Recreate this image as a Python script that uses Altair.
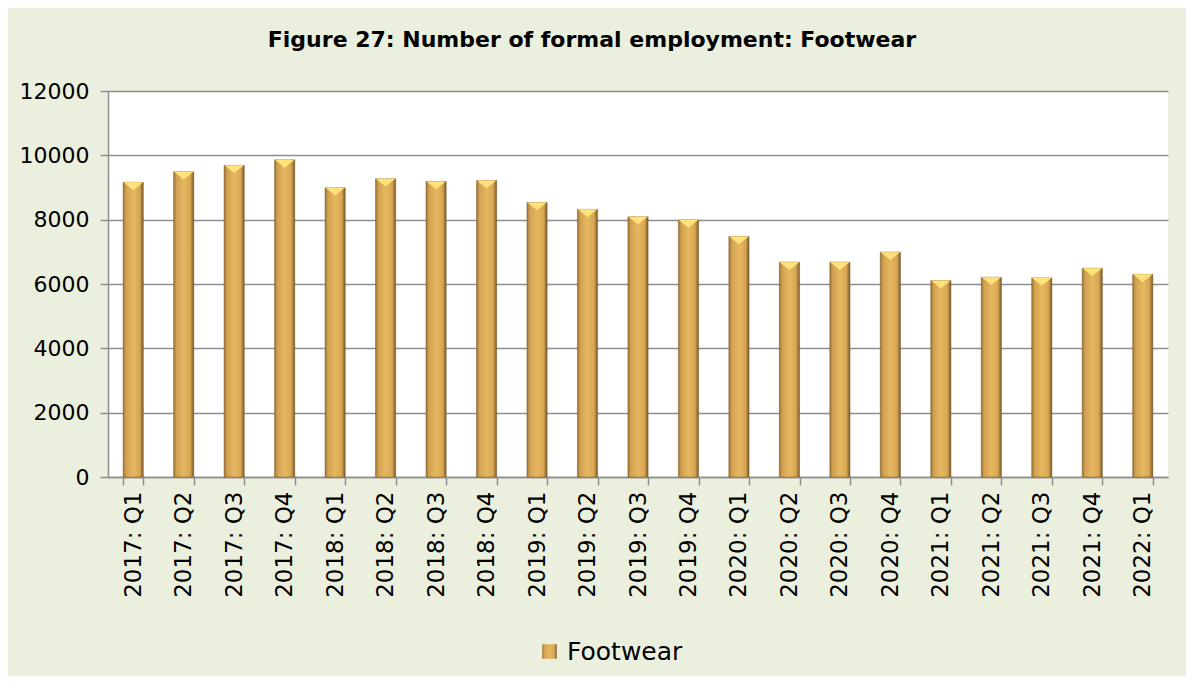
import altair as alt
import pandas as pd

quarters = [
    "2017: Q1", "2017: Q2", "2017: Q3", "2017: Q4",
    "2018: Q1", "2018: Q2", "2018: Q3", "2018: Q4",
    "2019: Q1", "2019: Q2", "2019: Q3", "2019: Q4",
    "2020: Q1", "2020: Q2", "2020: Q3", "2020: Q4",
    "2021: Q1", "2021: Q2", "2021: Q3", "2021: Q4",
    "2022: Q1",
]
footwear = [
    9160, 9490, 9690, 9860,
    8990, 9270, 9190, 9220,
    8535, 8320, 8090, 7990,
    7480, 6680, 6680, 6990,
    6110, 6210, 6190, 6490,
    6300,
]
y_ticks = [0, 2000, 4000, 6000, 8000, 10000, 12000]
series_name = "Footwear"
title_text = "Figure 27: Number of formal employment: Footwear"

df = pd.DataFrame({"quarter": quarters, "value": footwear, "series": series_name})

FONT = "DejaVu Sans"

gold = alt.Gradient(
    gradient="linear",
    x1=0, x2=1, y1=0, y2=0,
    stops=[
        alt.GradientStop(offset=0.0, color="#9A7433"),
        alt.GradientStop(offset=0.15, color="#D3A252"),
        alt.GradientStop(offset=0.5, color="#E6B761"),
        alt.GradientStop(offset=0.82, color="#D9A753"),
        alt.GradientStop(offset=1.0, color="#77592A"),
    ],
)

x_enc = alt.X(
    "quarter:N",
    sort=quarters,
    scale=alt.Scale(paddingInner=0.6, paddingOuter=0.3),
    axis=alt.Axis(
        title=None,
        labelAngle=-90,
        labelAlign="right",
        labelBaseline="middle",
        tickBand="extent",
        tickSize=8,
        tickColor="#8E8E8E",
        tickWidth=1.5,
        domainColor="#8E8E8E",
        domainWidth=1.5,
        labelFont=FONT,
        labelFontSize=23,
        labelColor="#000000",
        labelPadding=6,
    ),
)
y_enc = alt.Y(
    "value:Q",
    scale=alt.Scale(domain=[0, 12000], nice=False),
    axis=alt.Axis(
        title=None,
        values=y_ticks,
        format="d",
        grid=True,
        gridColor="#8E8E8E",
        gridWidth=1.5,
        tickSize=8,
        tickColor="#8E8E8E",
        tickWidth=1.5,
        domainColor="#8E8E8E",
        domainWidth=1.5,
        labelFont=FONT,
        labelFontSize=22,
        labelColor="#000000",
        labelPadding=11,
    ),
)

bars = alt.Chart(df).mark_bar(fill=gold, stroke="#7A5A28", strokeWidth=0.5).encode(
    x=x_enc,
    y=y_enc,
    opacity=alt.Opacity(
        "series:N",
        scale=alt.Scale(range=[1]),
        legend=alt.Legend(
            title=None,
            orient="none",
            legendX=429,
            legendY=548,
            symbolType="square",
            symbolSize=210,
            symbolFillColor="#D9A650",
            symbolStrokeColor="#8A672C",
            symbolStrokeWidth=1,
            labelFont=FONT,
            labelFontSize=25,
            labelColor="#000000",
            labelOffset=5,
        ),
    ),
)

caps = alt.Chart(df).mark_point(
    shape="M-1,0L1,0L0,0.8Z",
    filled=True,
    size=380,
    fill="#FFE27A",
    strokeWidth=0,
    opacity=1,
).encode(x=alt.X("quarter:N", sort=quarters), y=alt.Y("value:Q"))

chart = (
    alt.layer(bars, caps)
    .properties(
        width=1060,
        height=386,
        autosize=alt.AutoSizeParams(type="none"),
        padding={"left": 100, "top": 83, "right": 18, "bottom": 199},
        background="#EBEFDE",
        title=alt.TitleParams(
            title_text,
            font=FONT,
            fontSize=22,
            fontWeight="bold",
            color="#000000",
            anchor="middle",
            dx=-46,
            offset=28,
        ),
    )
    .configure_view(fill="#FFFFFF", stroke=None)
)

chart.save("out.html", embed_options={"renderer": "svg", "actions": False})
